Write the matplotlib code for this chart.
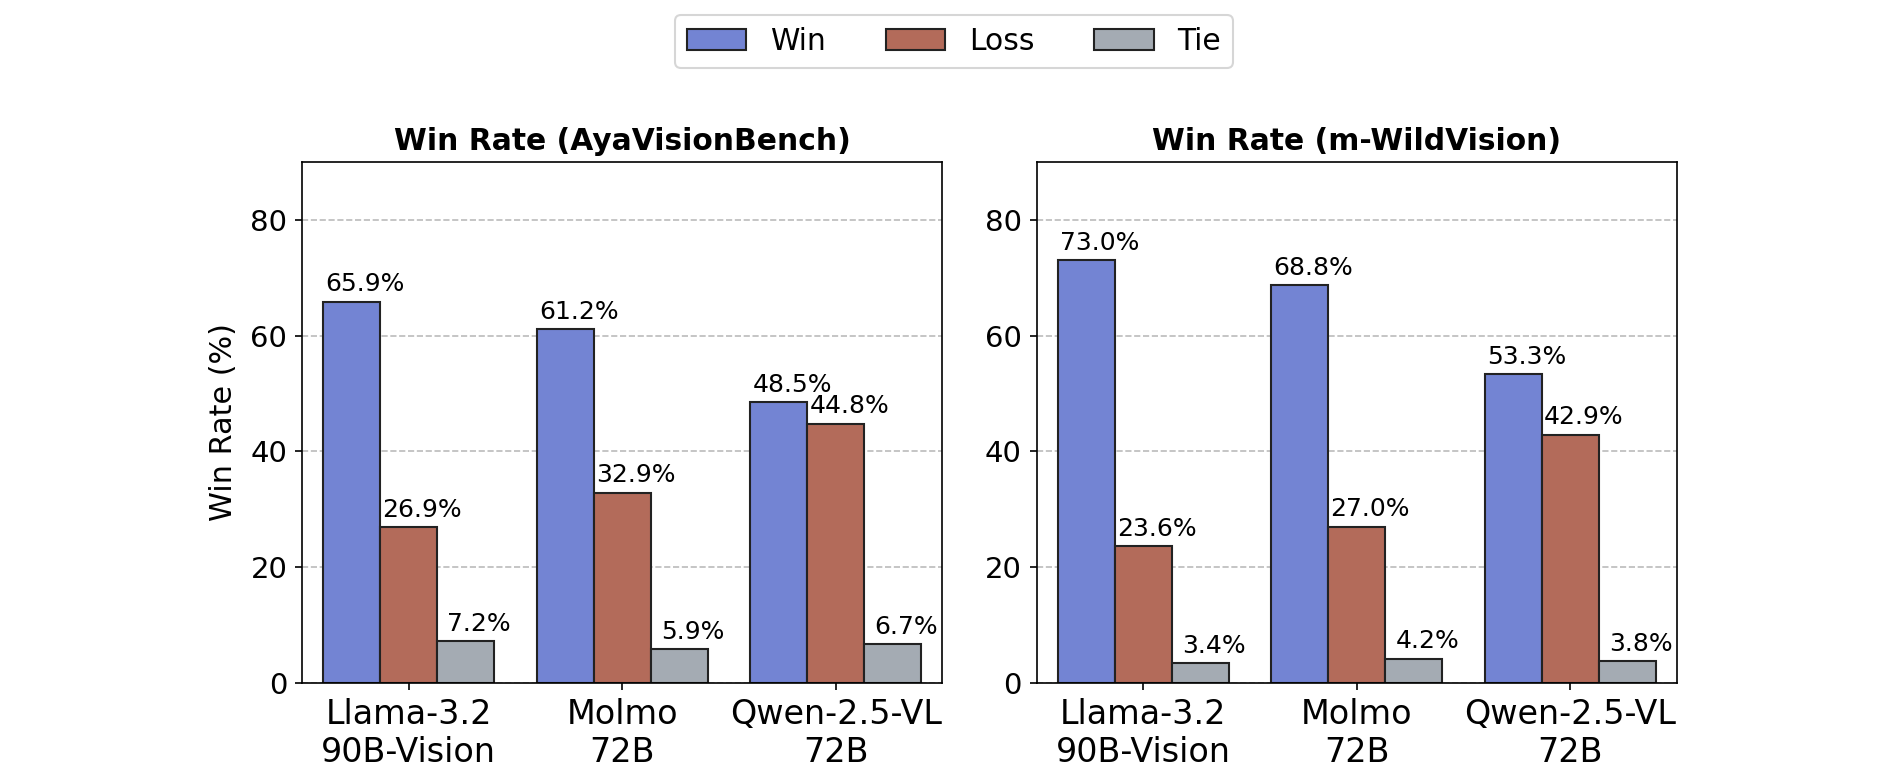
import numpy as np
import matplotlib.pyplot as plt

# data
models = ['Llama-3.2\n90B-Vision', 'Molmo\n72B', 'Qwen-2.5-VL\n72B']
titles = ['Win Rate (AyaVisionBench)', 'Win Rate (m-WildVision)']

aya_win = [65.9, 61.2, 48.5]
aya_loss = [26.9, 32.9, 44.8]
aya_tie = [7.2, 5.9, 6.7]

wild_win = [73.0, 68.8, 53.3]
wild_loss = [23.6, 27.0, 42.9]
wild_tie = [3.4, 4.2, 3.8]

series_names = ['Win', 'Loss', 'Tie']
colors = ['#7384d3', '#b36b5a', '#a4abb3']

panels = [(aya_win, aya_loss, aya_tie), (wild_win, wild_loss, wild_tie)]

fig, axes = plt.subplots(1, 2, figsize=(1880 / 150, 780 / 150), dpi=150)
plt.subplots_adjust(left=0.1606, right=0.892, bottom=0.1244, top=0.7923, wspace=0.147)

x = np.arange(len(models))
width = 0.8 / 3

for ax, title, vals in zip(axes, titles, panels):
    for i, (name, v, c) in enumerate(zip(series_names, vals, colors)):
        pos = x + (i - 1) * width
        ax.bar(pos, v, width, color=c, edgecolor='#222222', linewidth=1.0, label=name)
        # labels over bars
        for px, h in zip(pos, v):
            ax.annotate(f'{h:.1f}%', (px, h), xytext=(6.5, 2.5), textcoords='offset points',
                        ha='center', va='bottom', fontsize=12)
    ax.set_title(title, fontsize=14.3, fontweight='bold', pad=6)
    ax.set_xticks(x)
    ax.set_xticklabels(models, fontsize=16)
    ax.set_xlim(-0.5, 2.5)
    ax.set_ylim(0, 90)
    ax.set_yticks([0, 20, 40, 60, 80])
    ax.tick_params(axis='y', labelsize=14)
    ax.yaxis.grid(True, linestyle='--', color='#bbbbbb', linewidth=0.8)
    ax.set_axisbelow(True)

axes[0].set_ylabel('Win Rate (%)', fontsize=14.5, labelpad=6)

handles, labels = axes[0].get_legend_handles_labels()
fig.legend(handles, labels, loc='upper center', bbox_to_anchor=(0.5075, 1.0),
           ncol=3, fontsize=14.3)

plt.savefig('out.png', dpi=150)
